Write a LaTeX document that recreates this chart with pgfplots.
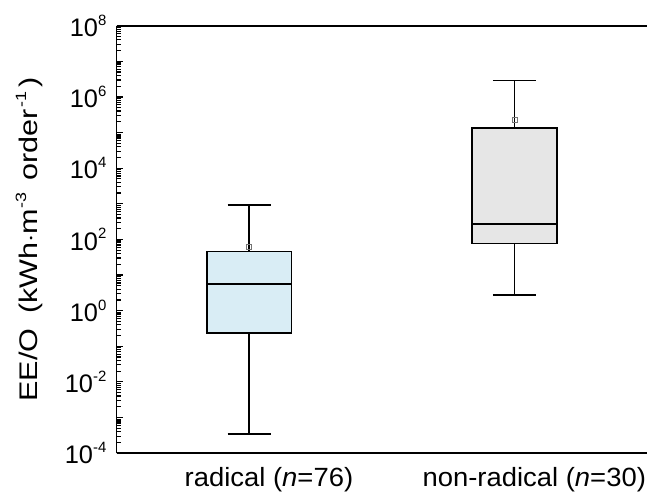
\documentclass[border=0pt]{standalone}
\usepackage{fontspec}
\setmainfont{Liberation Sans}
\usepackage{pgfplots}
\pgfplotsset{compat=1.18}
\definecolor{radfill}{RGB}{217,237,245}
\definecolor{nonfill}{RGB}{230,230,230}
\newcommand{\sups}[1]{\raisebox{0.45em}{\fontsize{15}{15}\selectfont #1}}
\newcommand{\ytl}[1]{{\fontsize{25.5}{29}\selectfont 10\sups{#1}}}
\begin{document}
\begin{tikzpicture}
\begin{axis}[
  scale only axis, width=531.3bp, height=428bp,
  ymode=log, ymin=1e-4, ymax=1e8,
  xmin=0.5, xmax=2.5,
  clip=false,
  axis x line*=bottom, axis y line*=left,
  axis line style={line width=1.7bp, black},
  xtick={1,2},
  xticklabels={radical (\textit{n}=76), non-radical (\textit{n}=30)},
  xtick style={draw=none},
  xticklabel style={font=\fontsize{26.5}{30}\selectfont, xscale=1.04, anchor=north, inner sep=0pt, yshift=-14bp, xshift=19bp},
  ytickten={-4,...,8},
  yticklabels={\ytl{-4},{},\ytl{-2},{},\ytl{0},{},\ytl{2},{},\ytl{4},{},\ytl{6},{},\ytl{8}},
  yticklabel style={anchor=east, inner sep=0pt, xshift=-10bp},
  tick align=inside,
  major tick length=6.5bp, minor tick length=4bp,
  ytick style={line width=1.2bp, black},
  ylabel={EE/O\hspace{5bp} (kWh$\cdot$m\sups{-3}\hspace{3bp} order\hspace{2bp}\sups{-1}\hspace{3bp})},
  every axis y label/.style={at={(axis description cs:-0.1387,0.5)}, anchor=south, rotate=90, xscale=1.2, inner sep=0pt, font=\fontsize{25.6}{29}\selectfont},
]
% radical: whiskers 3.4e-4 .. 940, Q1 0.24, median 5.6, Q3 46
\addplot[draw=black, line width=1.7bp] coordinates {(1,3.4e-4) (1,0.24)};
\addplot[draw=black, line width=1.7bp] coordinates {(1,46) (1,940)};
\addplot[draw=black, line width=1.7bp] coordinates {(0.9185,3.4e-4) (1.0815,3.4e-4)};
\addplot[draw=black, line width=1.7bp] coordinates {(0.9185,940) (1.0815,940)};
\addplot[draw=black, fill=radfill, line width=1.7bp, line join=miter] coordinates {(0.84,0.24) (1.16,0.24) (1.16,46) (0.84,46)} -- cycle;
\addplot[draw=black, line width=1.7bp] coordinates {(0.84,5.6) (1.16,5.6)};
% non-radical: whiskers 2.7 .. 2.87e6, Q1 77, median 270, Q3 1.33e5
\addplot[draw=black, line width=1.7bp] coordinates {(2,2.7) (2,77)};
\addplot[draw=black, line width=1.7bp] coordinates {(2,1.33e5) (2,2.87e6)};
\addplot[draw=black, line width=1.7bp] coordinates {(1.9185,2.7) (2.0815,2.7)};
\addplot[draw=black, line width=1.7bp] coordinates {(1.9185,2.87e6) (2.0815,2.87e6)};
\addplot[draw=black, fill=nonfill, line width=1.7bp, line join=miter] coordinates {(1.84,77) (2.16,77) (2.16,1.33e5) (1.84,1.33e5)} -- cycle;
\addplot[draw=black, line width=1.7bp] coordinates {(1.84,270) (2.16,270)};
% means
\addplot[only marks, mark=square, mark size=2.4bp, draw=gray!90!black, line width=0.8bp] coordinates {(1,63) (2,2.27e5)};
\draw[line width=1.7bp] (rel axis cs:0,1) -- (rel axis cs:1,1);
\coordinate (BL) at (rel axis cs:0,0);
\end{axis}
\path (BL) ++(-116.7bp,-39.3bp) rectangle ++(648bp,493bp);
\end{tikzpicture}
\end{document}
